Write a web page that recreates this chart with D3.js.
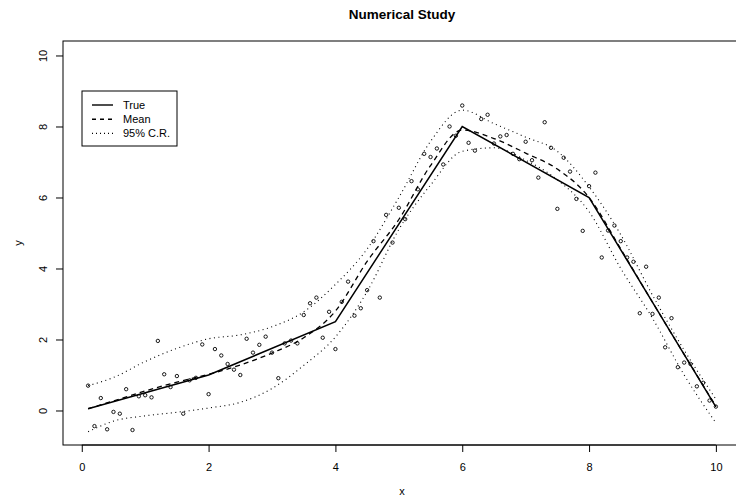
<!DOCTYPE html>
<html>
<head>
<meta charset="utf-8">
<script src="https://cdn.jsdelivr.net/npm/d3@7"></script>
<style>
  body { margin: 0; background: #fff; }
  svg { font-family: "Liberation Sans", Arial, sans-serif; }
</style>
</head>
<body>
<svg id="chart" width="736" height="501"></svg>
<script>
// observed points
var ptX = [0.1,0.2,0.3,0.4,0.5,0.6,0.7,0.8,0.9,1.0,
           1.1,1.2,1.3,1.4,1.5,1.6,1.7,1.8,1.9,2.0,
           2.1,2.2,2.3,2.4,2.5,2.6,2.7,2.8,2.9,3.0,
           3.1,3.2,3.3,3.4,3.5,3.6,3.7,3.8,3.9,4.0,
           4.1,4.2,4.3,4.4,4.5,4.6,4.7,4.8,4.9,5.0,
           5.1,5.2,5.3,5.4,5.5,5.6,5.7,5.8,5.9,6.0,
           6.1,6.2,6.3,6.4,6.5,6.6,6.7,6.8,6.9,7.0,
           7.1,7.2,7.3,7.4,7.5,7.6,7.7,7.8,7.9,8.0,
           8.1,8.2,8.3,8.4,8.5,8.6,8.7,8.8,8.9,9.0,
           9.1,9.2,9.3,9.4,9.5,9.6,9.7,9.8,9.9,10.0];
var ptY = [0.70,-0.44,0.35,-0.53,-0.04,-0.09,0.60,-0.55,0.40,0.43,
           0.37,1.96,1.02,0.66,0.97,-0.09,0.85,0.92,1.86,0.46,
           1.73,1.55,1.31,1.15,1.00,2.02,1.63,1.85,2.08,1.63,
           0.91,1.89,1.97,1.89,2.69,3.02,3.18,2.05,2.78,1.73,
           3.06,3.63,2.67,2.88,3.39,4.77,3.18,5.51,4.73,5.71,
           5.39,6.46,6.23,7.23,7.14,7.38,6.93,8.00,7.74,8.59,
           7.54,7.32,8.21,8.33,7.52,7.72,7.76,7.23,7.08,7.57,
           7.05,6.56,8.12,7.40,5.68,7.12,6.73,5.96,5.06,6.32,
           6.70,4.31,5.07,5.21,4.77,4.31,4.19,2.74,4.05,2.72,
           3.18,1.78,2.60,1.22,1.35,1.31,0.68,0.78,0.28,0.11];

// true curve
var trueX = [0.1, 2, 4, 6, 8, 10];
var trueY = [0.05, 1.0, 2.5, 8.0, 6.0, 0.1];

// posterior mean and 95% credible region
var gridX  = [0.1,0.5,1.0,1.5,2.0,2.5,3.0,3.5,4.0,4.5,5.0,5.5,6.0,6.5,7.0,7.5,8.0,8.5,9.0,9.5,10.0];
var meanY  = [0.05,0.27,0.55,0.80,1.02,1.28,1.62,2.05,2.80,4.20,5.38,6.90,7.90,7.66,7.25,6.80,6.00,4.55,3.05,1.58,0.12];
var upperY = [0.70,0.93,1.38,1.75,2.02,2.13,2.36,2.78,3.55,4.55,6.00,7.58,8.46,8.08,7.70,7.30,6.30,4.95,3.25,1.70,0.32];
var lowerY = [-0.60,-0.30,-0.15,-0.05,0.07,0.23,0.62,1.27,2.07,3.35,5.10,6.35,7.30,7.40,7.05,6.50,5.60,4.00,2.60,1.00,-0.35];

var xTicks = [0, 2, 4, 6, 8, 10];
var yTicks = [0, 2, 4, 6, 8, 10];
var legendItems = [
  {label: "True", dash: null},
  {label: "Mean", dash: "4,4"},
  {label: "95% C.R.", dash: "1,3"}
];

function drawChart() {
  var svg = d3.select("#chart");
  var pL = 63, pR = 741, pT = 41, pB = 445;

  var x = d3.scaleLinear().domain([-0.296, 10.396]).range([pL, pR]);
  var y = d3.scaleLinear().domain([-0.972, 10.408]).range([pB, pT]);

  // title + axis titles
  svg.append("text")
      .attr("x", (pL + pR) / 2)
      .attr("y", 19)
      .attr("text-anchor", "middle")
      .style("font-weight", "bold")
      .style("font-size", "13.5px")
      .text("Numerical Study");

  svg.append("text")
      .attr("x", (pL + pR) / 2)
      .attr("y", 495)
      .attr("text-anchor", "middle")
      .style("font-size", "11px")
      .text("x");

  svg.append("text")
      .attr("transform", "translate(22," + ((pT + pB) / 2) + ") rotate(-90)")
      .attr("text-anchor", "middle")
      .style("font-size", "11px")
      .text("y");

  // axes
  var xAxis = svg.append("g")
      .attr("transform", "translate(0," + pB + ")")
      .call(d3.axisBottom(x).tickValues(xTicks).tickSize(7).tickPadding(11).tickFormat(d3.format("d")));
  var yAxis = svg.append("g")
      .attr("transform", "translate(" + pL + ",0)")
      .call(d3.axisLeft(y).tickValues(yTicks).tickSize(7).tickFormat(d3.format("d")));

  [xAxis, yAxis].forEach(function(g) {
    g.select(".domain").remove();
    g.selectAll("line").attr("stroke", "#000").attr("stroke-width", 1);
    g.selectAll("text").attr("fill", "#000").style("font-size", "11px")
        .style("font-family", "Liberation Sans, Arial, sans-serif");
  });
  // R style: axis line between first and last tick
  xAxis.append("line")
      .attr("x1", x(xTicks[0])).attr("x2", x(xTicks[xTicks.length - 1]))
      .attr("stroke", "#000");
  yAxis.selectAll(".tick text")
      .attr("x", null).attr("dy", null)
      .attr("text-anchor", "middle")
      .attr("transform", "translate(-20,0) rotate(-90)")
      .attr("y", 4);

  // plot box
  svg.append("rect")
      .attr("x", pL).attr("y", pT)
      .attr("width", pR - pL).attr("height", pB - pT)
      .attr("fill", "none").attr("stroke", "#000").attr("stroke-width", 1);

  var line = d3.line().x(d => x(d[0])).y(d => y(d[1]));
  var smooth = d3.line().curve(d3.curveMonotoneX).x(d => x(d[0])).y(d => y(d[1]));

  // points
  svg.append("g").selectAll("circle")
      .data(d3.zip(ptX, ptY))
    .enter().append("circle")
      .attr("cx", d => x(d[0]))
      .attr("cy", d => y(d[1]))
      .attr("r", 1.7)
      .attr("fill", "none")
      .attr("stroke", "#000")
      .attr("stroke-width", 0.9);

  svg.append("path")
      .datum(d3.zip(trueX, trueY))
      .attr("d", line)
      .attr("fill", "none").attr("stroke", "#000").attr("stroke-width", 1.5);

  svg.append("path")
      .datum(d3.zip(gridX, meanY))
      .attr("d", smooth)
      .attr("fill", "none").attr("stroke", "#000").attr("stroke-width", 1.3)
      .attr("stroke-dasharray", "5,4");

  [upperY, lowerY].forEach(function(band) {
    svg.append("path")
        .datum(d3.zip(gridX, band))
        .attr("d", smooth)
        .attr("fill", "none").attr("stroke", "#000").attr("stroke-width", 1.1)
        .attr("stroke-dasharray", "1,3.5");
  });

  // legend
  var lg = svg.append("g").attr("transform", "translate(82,91)");
  lg.append("rect")
      .attr("width", 95).attr("height", 55)
      .attr("fill", "#fff").attr("stroke", "#000");
  var rows = lg.selectAll("g.row")
      .data(legendItems)
    .enter().append("g")
      .attr("class", "row")
      .attr("transform", (d, i) => "translate(0," + (14 + i * 14.2) + ")");
  rows.append("line")
      .attr("x1", 10).attr("x2", 31)
      .attr("stroke", "#000").attr("stroke-width", 1.4)
      .attr("stroke-dasharray", d => d.dash);
  rows.append("text")
      .attr("x", 41).attr("y", 4)
      .style("font-size", "11px")
      .text(d => d.label);
}

drawChart();
</script>
</body>
</html>
